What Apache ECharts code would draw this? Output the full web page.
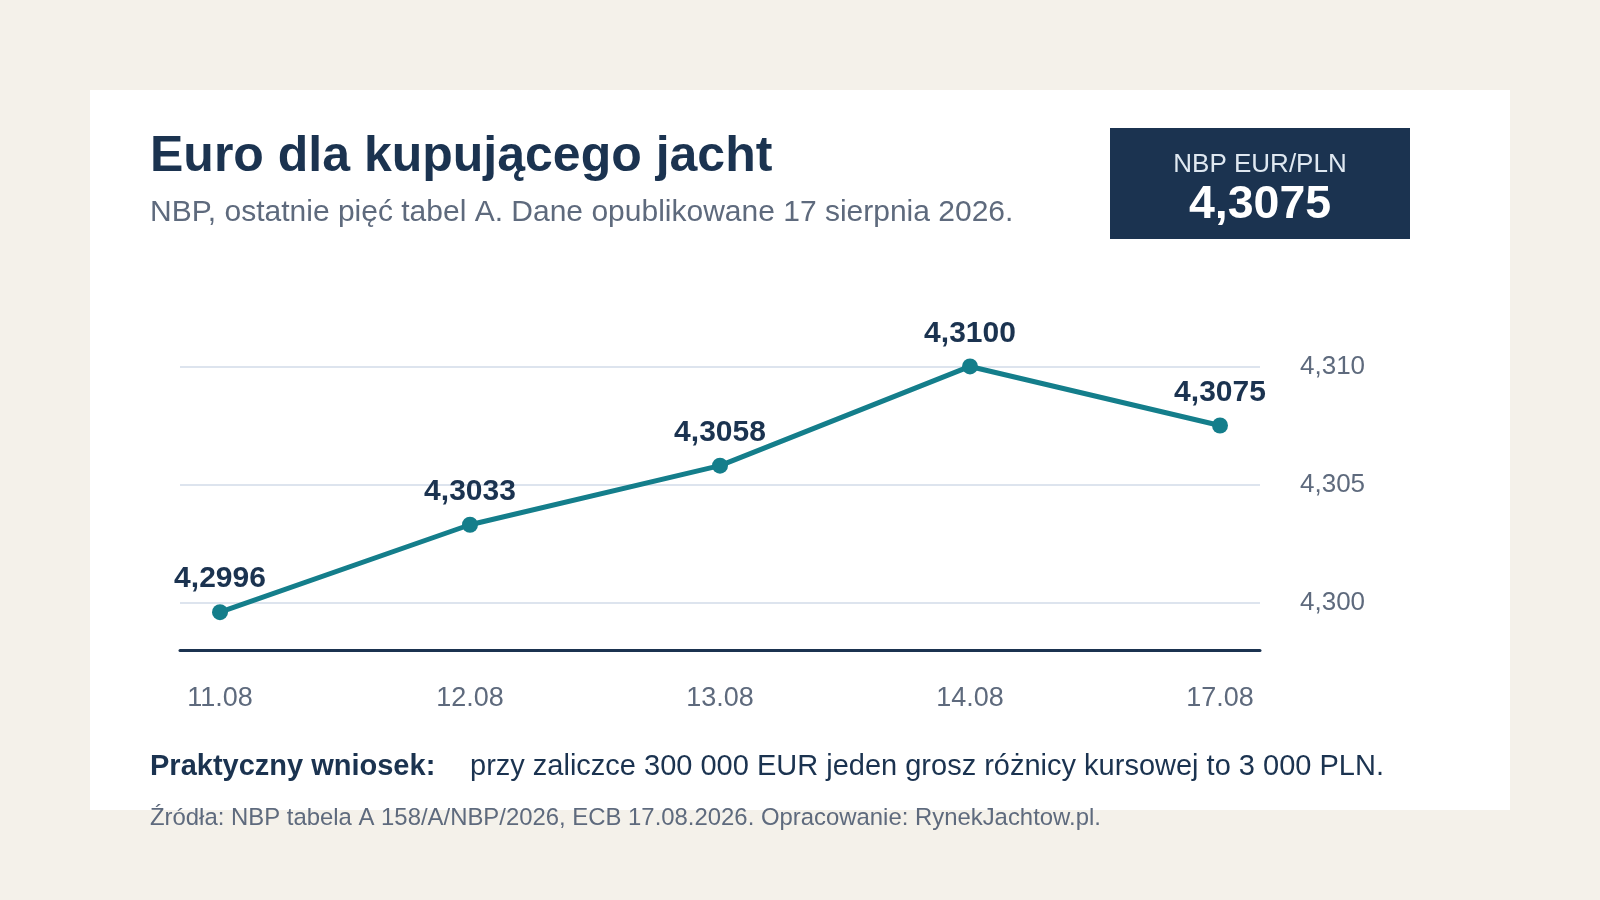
<!DOCTYPE html>
<html>
<head>
<meta charset="utf-8">
<script src="https://cdn.jsdelivr.net/npm/echarts@6/dist/echarts.min.js"></script>
<style>
html,body{margin:0;padding:0;background:#f4f1ea;}
#chart{width:1600px;height:900px;}
</style>
</head>
<body>
<div id="chart"></div>
<script>
const dates = ['11.08', '12.08', '13.08', '14.08', '17.08'];
const rates = [4.2996, 4.3033, 4.3058, 4.3100, 4.3075];
const yTicks = [4.300, 4.305, 4.310];
const xIndex = [0, 1, 2, 3, 4];
const titleText = 'Euro dla kupującego jacht';
const subtitleText = 'NBP, ostatnie pięć tabel A. Dane opublikowane 17 sierpnia 2026.';
const badgeLabel = 'NBP EUR/PLN';
const badgeValue = '4,3075';
const noteBold = 'Praktyczny wniosek:';
const noteText = 'przy zaliczce 300 000 EUR jeden grosz różnicy kursowej to 3 000 PLN.';
const sourceText = 'Źródła: NBP tabela A 158/A/NBP/2026, ECB 17.08.2026. Opracowanie: RynekJachtow.pl.';

const FONT = '"Liberation Sans", Arial, Helvetica, sans-serif';
const NAVY = '#1b3350';
const GRAY = '#5e6a7d';
const TEAL = '#147e8b';
const fmt = (v, d) => v.toFixed(d).replace('.', ',');

const chart = echarts.init(document.getElementById('chart'), null, {renderer: 'canvas'});
chart.setOption({
  backgroundColor: '#f4f1ea',
  animation: false,
  textStyle: {fontFamily: FONT},
  grid: {left: 180, right: 340, top: 331, height: 319, containLabel: false},
  xAxis: {
    type: 'value',
    min: -0.16,
    max: 4.16,
    axisLine: {show: true, onZero: false, lineStyle: {color: NAVY, width: 3}},
    axisTick: {show: false, customValues: xIndex},
    splitLine: {show: false},
    axisLabel: {
      customValues: xIndex,
      margin: 35,
      fontSize: 27,
      color: GRAY,
      fontFamily: FONT,
      formatter: (v) => dates[Math.round(v)]
    }
  },
  yAxis: {
    type: 'value',
    position: 'right',
    min: 4.298,
    max: 4.3115,
    axisLine: {show: false},
    axisTick: {show: false, customValues: yTicks},
    splitLine: {show: true, lineStyle: {color: '#dde4ee', width: 2}},
    axisLabel: {
      customValues: yTicks,
      margin: 40,
      fontSize: 26,
      color: GRAY,
      fontFamily: FONT,
      padding: [6, 0, 0, 0],
      formatter: (v) => fmt(v, 3)
    }
  },
  series: [{
    type: 'line',
    data: rates.map((r, i) => [xIndex[i], r]),
    lineStyle: {color: TEAL, width: 5},
    itemStyle: {color: TEAL},
    symbol: 'circle',
    symbolSize: 16,
    label: {
      show: true,
      position: 'top',
      distance: 10,
      fontSize: 30,
      fontWeight: 'bold',
      color: NAVY,
      fontFamily: FONT,
      formatter: (p) => fmt(p.value[1], 4)
    },
    z: 5
  }],
  graphic: [
    {type: 'rect', z: -10, shape: {x: 90, y: 90, width: 1420, height: 720}, style: {fill: '#ffffff'}},
    {type: 'text', x: 150, y: 157, style: {text: titleText, font: 'bold 50px ' + FONT, fill: NAVY, verticalAlign: 'middle'}},
    {type: 'text', x: 150, y: 212.5, style: {text: subtitleText, font: '30px ' + FONT, fill: GRAY, verticalAlign: 'middle'}},
    {type: 'rect', shape: {x: 1110, y: 128, width: 300, height: 111}, style: {fill: NAVY}},
    {type: 'text', x: 1260, y: 165, style: {text: badgeLabel, font: '26px ' + FONT, fill: '#dfe8f1', align: 'center', verticalAlign: 'middle'}},
    {type: 'text', x: 1260, y: 205, style: {text: badgeValue, font: 'bold 46.5px ' + FONT, fill: '#ffffff', align: 'center', verticalAlign: 'middle'}},
    {type: 'text', x: 150, y: 767, style: {text: noteBold, font: 'bold 29px ' + FONT, fill: NAVY, verticalAlign: 'middle'}},
    {type: 'text', x: 470, y: 767, style: {text: noteText, font: '29px ' + FONT, fill: NAVY, verticalAlign: 'middle'}},
    {type: 'text', x: 150, y: 818, style: {text: sourceText, font: '23.9px ' + FONT, fill: GRAY, verticalAlign: 'middle'}}
  ]
});
</script>
</body>
</html>
